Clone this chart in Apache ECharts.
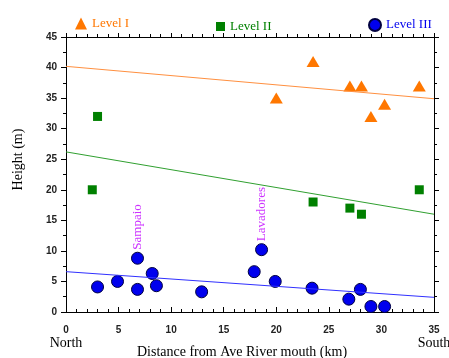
<!DOCTYPE html>
<html>
<head>
<meta charset="utf-8">
<script src="https://cdn.jsdelivr.net/npm/echarts@6/dist/echarts.min.js"></script>
<style>
html, body { margin: 0; padding: 0; background: #fff; }
#chart { width: 449px; height: 358px; }
</style>
</head>
<body>
<div id="chart"></div>
<script>
// values: [distance km, height m]
var level1 = [[20, 35], [23.5, 41], [27, 37], [28.1, 37], [29, 32], [30.3, 34], [33.6, 37]];
var level2 = [[3, 32], [2.5, 20], [23.5, 18], [27, 17], [28.1, 16], [33.6, 20]];
var level3 = [[3, 4.1], [4.9, 5], [6.8, 3.7], [6.8, 8.8], [8.2, 6.3], [8.6, 4.3], [12.9, 3.3],
    [17.9, 6.6], [18.6, 10.2], [19.9, 5], [23.4, 3.9], [26.9, 2.1], [28, 3.7], [29, 0.9], [30.3, 0.9]];
// trend lines, end points
var trend1 = [[0, 40.2], [35, 34.9]];
var trend2 = [[0, 26.2], [35, 16]];
var trend3 = [[0, 6.6], [35, 2.4]];
// site names placed on points of level III
var siteNames = {'6.8,8.8': 'Sampaio', '18.6,10.2': 'Lavadores'};

var serif = '"Liberation Serif", "DejaVu Serif", serif';
var sans = '"Liberation Sans", Arial, sans-serif';

var orange = '#ff7700';
var green = '#008000';
var blue = '#0000ee';

function legendOf(name, left, color, top, size) {
    return {
        data: [name],
        left: left,
        top: top,
        itemWidth: size,
        itemHeight: size,
        itemGap: 4,
        textStyle: { color: color, fontFamily: serif, fontSize: 13 }
    };
}

var chart = echarts.init(document.getElementById('chart'));

var option = {
    animation: false,
    backgroundColor: '#fff',
    legend: [
        legendOf('Level I', 70, orange, 12, 12),
        legendOf('Level II', 211, green, 15, 9),
        legendOf('Level III', 363, blue, 13, 12)
    ],
    grid: { left: 66, right: 15, top: 37, bottom: 46, outerBoundsMode: 'none' },
    xAxis: [
        {
            type: 'value', min: 0, max: 35, interval: 5, position: 'bottom',
            splitLine: { show: false },
            axisLine: { onZero: false, lineStyle: { color: '#000' } },
            axisTick: { inside: true, length: 5, lineStyle: { color: '#000' } },
            minorTick: { show: true, splitNumber: 5, length: 3, lineStyle: { color: '#000' } },
            axisLabel: {
                margin: 12,
                formatter: function (v) {
                    if (v === 0) return '{n|0}\n{d|North}';
                    if (v === 35) return '{n|35}\n{d|South}';
                    return '{n|' + v + '}';
                },
                rich: {
                    n: { fontFamily: sans, fontSize: 10, fontWeight: 'bold', color: '#222', lineHeight: 12 },
                    d: { fontFamily: serif, fontSize: 14, color: '#000', lineHeight: 14 }
                }
            },
            name: 'Distance from Ave River mouth (km)',
            nameLocation: 'middle',
            nameGap: 33,
            nameMoveOverlap: false,
            nameTextStyle: { fontFamily: serif, fontSize: 14, color: '#000', padding: [0, 16, 0, 0] }
        },
        {
            type: 'value', min: 0, max: 35, interval: 5, position: 'top',
            splitLine: { show: false },
            axisLine: { onZero: false, lineStyle: { color: '#000' } },
            axisTick: { length: 4, lineStyle: { color: '#000' } },
            minorTick: { show: true, splitNumber: 5, length: 3, lineStyle: { color: '#000' } },
            axisLabel: { show: false }
        }
    ],
    yAxis: [
        {
            type: 'value', min: 0, max: 45, interval: 5, position: 'left',
            splitLine: { show: false },
            axisLine: { onZero: false, lineStyle: { color: '#000' } },
            axisTick: { length: 5, lineStyle: { color: '#000' } },
            minorTick: { show: true, splitNumber: 2, length: 3, lineStyle: { color: '#000' } },
            axisLabel: { fontFamily: sans, fontSize: 10, fontWeight: 'bold', color: '#222', margin: 9 },
            name: 'Height (m)',
            nameLocation: 'middle',
            nameGap: 41,
            nameMoveOverlap: false,
            nameTextStyle: { fontFamily: serif, fontSize: 14, color: '#000', padding: [0, 0, 0, 30] }
        },
        {
            type: 'value', min: 0, max: 45, interval: 5, position: 'right',
            splitLine: { show: false },
            axisLine: { onZero: false, lineStyle: { color: '#000' } },
            axisTick: { length: 5, lineStyle: { color: '#000' } },
            minorTick: { show: true, splitNumber: 2, length: 3, lineStyle: { color: '#000' } },
            axisLabel: { show: false }
        }
    ],
    series: [
        {
            name: 'trend I', type: 'line', data: trend1, symbol: 'none', silent: true,
            lineStyle: { color: '#ff9040', width: 1 }
        },
        {
            name: 'trend II', type: 'line', data: trend2, symbol: 'none', silent: true,
            lineStyle: { color: '#30a030', width: 1 }
        },
        {
            name: 'trend III', type: 'line', data: trend3, symbol: 'none', silent: true,
            lineStyle: { color: '#3030ff', width: 1 }
        },
        {
            name: 'Level I', type: 'scatter', data: level1,
            symbol: 'triangle', symbolSize: [13, 11],
            itemStyle: { color: orange, opacity: 1 }
        },
        {
            name: 'Level II', type: 'scatter', data: level2,
            symbol: 'rect', symbolSize: 9,
            itemStyle: { color: green, opacity: 1 }
        },
        {
            name: 'Level III', type: 'scatter', data: level3,
            symbol: 'circle', symbolSize: 12,
            itemStyle: { color: blue, borderColor: '#000040', borderWidth: 1, opacity: 1 },
            label: {
                show: true,
                position: 'top',
                distance: 2,
                rotate: 90,
                align: 'left',
                verticalAlign: 'middle',
                fontFamily: serif,
                fontSize: 13,
                color: '#cc33ff',
                formatter: function (p) {
                    return siteNames[p.value[0] + ',' + p.value[1]] || '';
                }
            }
        }
    ]
};

chart.setOption(option);
</script>
</body>
</html>
